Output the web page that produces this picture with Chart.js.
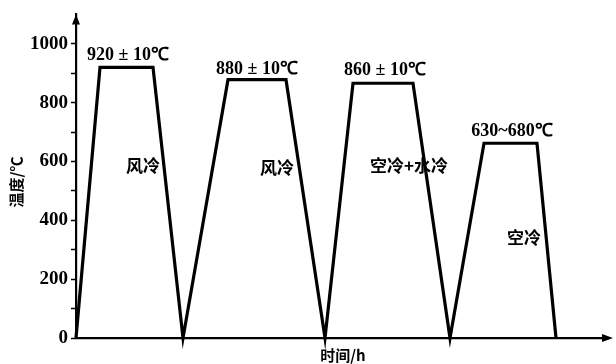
<!DOCTYPE html>
<html>
<head>
<meta charset="utf-8">
<script src="https://cdn.jsdelivr.net/npm/chart.js@4/dist/chart.umd.min.js"></script>
<style>
  html, body { margin: 0; padding: 0; background: #fff; }
  #wrap { width: 616px; height: 364px; }
</style>
</head>
<body>
<div id="wrap"><canvas id="c" width="616" height="364"></canvas></div>
<script>
// time (arbitrary units) and temperature of the heat treatment cycle
const timeH = [0, 4.8, 15.4, 21.4, 30.4, 42, 49.8, 55.4, 67.4, 74.8, 81.6, 92.2, 96];
const tempC = [0, 920, 920, 0, 878, 878, 0, 866, 866, 0, 662, 662, 0];

// labels over the plateaus and on the cooling lines
const holdLabels = ['920 ± 10℃', '880 ± 10℃', '860 ± 10℃', '630~680℃'];
const holdAt = [[10.4, 960], [36.2, 914], [61.8, 910], [87.2, 703]];
const coolLabels = ['风冷', '风冷', '空冷+水冷', '空冷'];
const coolAt = [[13.4, 585], [40.2, 580], [66.6, 585], [89.6, 340]];

const yTicks = [0, 200, 400, 600, 800, 1000];

const serif = '"Liberation Serif", "Times New Roman", serif';
const cjk = '"Noto Sans CJK SC", sans-serif';

const decorations = {
  id: 'decorations',
  afterDraw(chart) {
    const {ctx, chartArea: a, scales: {x, y}} = chart;
    ctx.save();
    ctx.fillStyle = '#000';
    // arrow heads on the axes
    ctx.beginPath();
    ctx.moveTo(a.left, a.top);
    ctx.lineTo(a.left - 4, a.top + 10);
    ctx.lineTo(a.left + 4, a.top + 10);
    ctx.closePath();
    ctx.fill();
    ctx.beginPath();
    ctx.moveTo(a.right + 5, a.bottom);
    ctx.lineTo(a.right - 6, a.bottom - 4);
    ctx.lineTo(a.right - 6, a.bottom + 4);
    ctx.closePath();
    ctx.fill();

    ctx.textAlign = 'center';
    ctx.textBaseline = 'middle';
    ctx.font = 'bold 18px ' + serif;
    holdLabels.forEach((t, i) => {
      ctx.fillText(t, x.getPixelForValue(holdAt[i][0]), y.getPixelForValue(holdAt[i][1]));
    });
    ctx.font = 'bold 17px ' + cjk;
    coolLabels.forEach((t, i) => {
      ctx.fillText(t, x.getPixelForValue(coolAt[i][0]), y.getPixelForValue(coolAt[i][1]));
    });

    // axis titles
    ctx.font = 'bold 15px ' + cjk;
    ctx.fillText('时间/h', 343, 355);
    ctx.translate(16, 182);
    ctx.rotate(-Math.PI / 2);
    ctx.fillText('温度/℃', 0, 0);
    ctx.restore();
  }
};

new Chart(document.getElementById('c'), {
  type: 'line',
  data: {
    datasets: [{
      data: timeH.map((t, i) => ({x: t, y: tempC[i]})),
      borderColor: '#000',
      borderWidth: 3.2,
      pointRadius: 0,
      tension: 0,
      clip: false
    }]
  },
  options: {
    responsive: false,
    animation: false,
    layout: {padding: {left: 0, right: 8, top: 12, bottom: 0}},
    plugins: {legend: {display: false}, tooltip: {enabled: false}},
    scales: {
      x: {
        type: 'linear',
        min: 0,
        max: 106.4,
        ticks: {display: false},
        grid: {display: false},
        border: {display: true, color: '#000', width: 2.2},
        afterFit: s => { s.height = 26; }
      },
      y: {
        min: 0,
        max: 1100,
        afterBuildTicks: s => {
          s.ticks = [];
          for (let v = 0; v <= 1000; v += 100) s.ticks.push({value: v});
        },
        ticks: {
          color: '#000',
          padding: 3,
          font: {family: serif, size: 19, weight: 'bold'},
          callback: v => (yTicks.includes(v) ? v : '')
        },
        grid: {drawOnChartArea: false, drawTicks: true, tickLength: 5, tickColor: '#000', tickWidth: 1.5},
        border: {display: true, color: '#000', width: 2.2},
        afterFit: s => { s.width = 76; }
      }
    }
  },
  plugins: [decorations]
});
</script>
</body>
</html>
